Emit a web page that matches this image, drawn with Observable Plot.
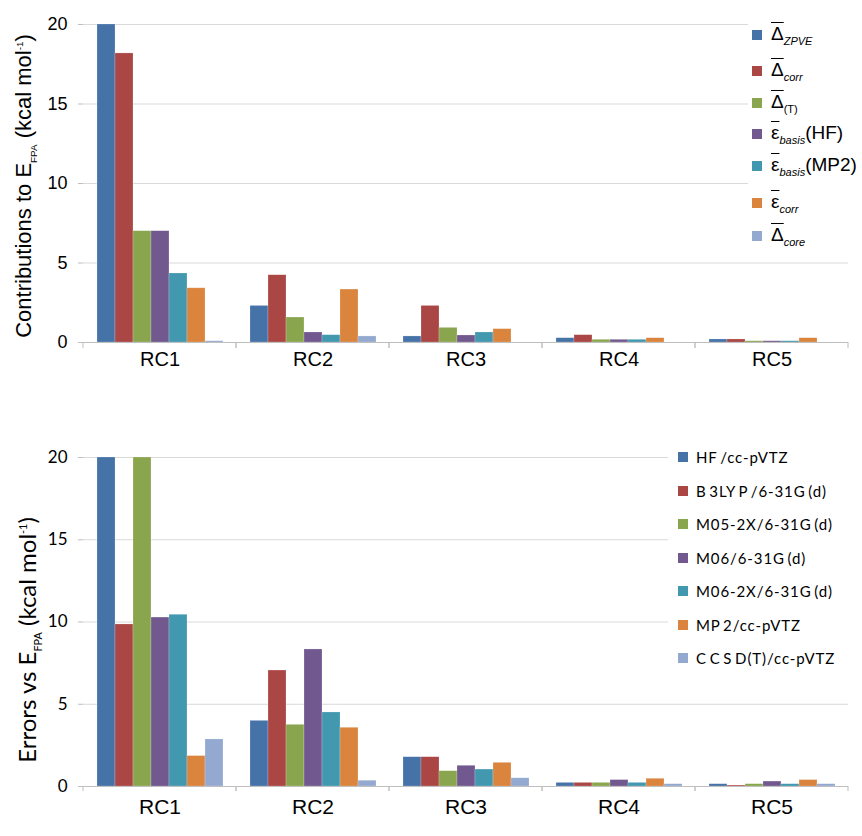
<!DOCTYPE html>
<html>
<head>
<meta charset="utf-8">
<script src="https://cdn.jsdelivr.net/npm/d3@7"></script>
<script src="https://cdn.jsdelivr.net/npm/@observablehq/plot@0.6"></script>
<style>
  body { margin: 0; background: #fff; }
  #wrap { position: relative; width: 862px; height: 836px; background: #fff; overflow: hidden; }
  .abs { position: absolute; }
  .ylab { position: absolute; white-space: nowrap; transform: translate(-50%, -50%) rotate(-90deg); color: #000; }
  .ylab sub, .ylab sup { font-size: 45%; }
  .leg { position: absolute; background: #fff; }
  .row { position: absolute; display: flex; align-items: center; white-space: nowrap; }
  .sw { width: 10px; height: 10px; margin-right: 9px; flex: none; }
  .ol { text-decoration: overline; }
  .leg1 { font-family: "Liberation Sans", Arial, sans-serif; font-size: 19px; color: #000; }
  .leg1 sub { font-size: 11px; font-style: italic; vertical-align: -5px; }
  .leg1 sub.n { font-style: normal; }
  .leg2 { font-family: Lato, sans-serif; font-size: 15px; letter-spacing: 0.9px; word-spacing: -2px; color: #000; }
</style>
</head>
<body>
<div id="wrap">
  <div id="top" class="abs" style="left:0;top:0"></div>
  <div id="bottom" class="abs" style="left:0;top:430px"></div>
  <div class="ylab" style="left:25px;top:186px;font-family:'Liberation Sans',Arial,sans-serif;font-size:22px">Contributions to E<sub>FPA</sub> (kcal mol<sup>-1</sup>)</div>
  <div class="ylab" style="left:28px;top:640px;font-family:Lato,sans-serif;font-size:24px">Errors vs E<sub>FPA</sub> (kcal mol<sup>-1</sup>)</div>
  <div id="leg1" class="leg leg1" style="left:748px;top:16px;width:114px;height:236px"></div>
  <div id="leg2" class="leg leg2" style="left:668px;top:444px;width:194px;height:228px"></div>
</div>
<script>
const categories = ["RC1", "RC2", "RC3", "RC4", "RC5"];
const yTicks = [0, 5, 10, 15, 20];
const colors = ["#4572A7", "#AA4643", "#89A54E", "#71588F", "#4198AF", "#DB843D", "#93A9CF"];

// Top chart: contributions (series keys + HTML legend labels)
const topSeries = ["dZPVE", "dcorr", "dT", "eHF", "eMP2", "ecorr", "dcore"];
const topLabels = [
  '<span class="ol">&Delta;</span><sub>ZPVE</sub>',
  '<span class="ol">&Delta;</span><sub>corr</sub>',
  '<span class="ol">&Delta;</span><sub class="n">(T)</sub>',
  '<span class="ol">&epsilon;</span><sub>basis</sub>(HF)',
  '<span class="ol">&epsilon;</span><sub>basis</sub>(MP2)',
  '<span class="ol">&epsilon;</span><sub>corr</sub>',
  '<span class="ol">&Delta;</span><sub>core</sub>'
];
const dZPVE = [20.0, 2.30, 0.38, 0.27, 0.19];
const dcorr = [18.18, 4.23, 2.30, 0.46, 0.19];
const dT    = [7.00, 1.57, 0.92, 0.17, 0.08];
const eHF   = [7.00, 0.63, 0.44, 0.17, 0.08];
const eMP2  = [4.34, 0.46, 0.63, 0.17, 0.08];
const ecorr = [3.41, 3.33, 0.84, 0.27, 0.27];
const dcore = [0.08, 0.38, 0.00, 0.00, 0.00];
const topValues = [dZPVE, dcorr, dT, eHF, eMP2, ecorr, dcore];

// Bottom chart: errors
const botSeries = ["HF /cc-pVTZ", "B3LYP/6-31G(d)", "M05-2X/6-31G(d)", "M06/6-31G(d)", "M06-2X/6-31G(d)", "MP2/cc-pVTZ", "CCSD(T)/cc-pVTZ"];
const botLabels = ["HF /cc-pVTZ", "B 3LY P /6-31G (d)", "M05-2X/6-31G (d)", "M06/6-31G (d)", "M06-2X/6-31G (d)", "MP 2/cc-pVTZ", "C C S D(T)/cc-pVTZ"];
const errHF     = [20.0, 3.99, 1.78, 0.22, 0.14];
const errB3LYP  = [9.85, 7.05, 1.78, 0.22, 0.06];
const errM052X  = [20.0, 3.75, 0.93, 0.22, 0.14];
const errM06    = [10.27, 8.33, 1.26, 0.39, 0.30];
const errM062X  = [10.44, 4.50, 1.03, 0.22, 0.14];
const errMP2    = [1.85, 3.57, 1.44, 0.47, 0.39];
const errCCSDT  = [2.86, 0.35, 0.50, 0.14, 0.14];
const botValues = [errHF, errB3LYP, errM052X, errM06, errM062X, errMP2, errCCSDT];

function toRows(series, values) {
  const rows = [];
  series.forEach((s, i) => categories.forEach((c, j) => rows.push({cat: c, series: s, value: values[i][j]})));
  return rows;
}

// category boundary ticks (drawn from the facet's band-scale range)
function boundaryTicks(len) {
  return (index, scales, values, dims, context) => {
    const g = d3.create("svg:g");
    const [x0, x1] = scales.x.range();
    const y0 = scales.y(0);
    for (const xv of [x0, x1]) {
      g.append("line").attr("x1", xv).attr("x2", xv).attr("y1", y0).attr("y2", y0 + len)
        .attr("stroke", "#bfbfbf").attr("stroke-width", 1);
    }
    return g.node();
  };
}

function chart({series, values, height, marginTop, marginBottom, tickFont, tickFontSize, catFontSize, catPad, tickLen}) {
  const data = toRows(series, values);
  return Plot.plot({
    width: 862,
    height,
    marginLeft: 82,
    marginRight: 14,
    marginTop,
    marginBottom,
    style: {background: "transparent", overflow: "visible"},
    fx: {domain: categories, padding: 0, label: null},
    x: {domain: series, paddingInner: 0, paddingOuter: 0.75, axis: null},
    y: {domain: [0, 20], label: null},
    color: {domain: series, range: colors},
    marks: [
      Plot.gridY(yTicks, {stroke: "#d9d9d9", strokeOpacity: 1}),
      Plot.barY(data, {fx: "cat", x: "series", y: "value", fill: "series", clip: true, stroke: "#fff", strokeOpacity: 0.35, strokeWidth: 0.6}),
      Plot.ruleY([0], {stroke: "#bfbfbf"}),
      boundaryTicks(tickLen),
      Plot.axisY({ticks: yTicks, tickSize: 5, tickPadding: 11, stroke: "#bfbfbf", fontSize: tickFontSize, fontFamily: tickFont, fill: "#000", label: null, facetAnchor: "left"}),
      Plot.axisFx({anchor: "bottom", tickSize: 0, tickPadding: catPad, fontSize: catFontSize, fontFamily: "Liberation Sans, Arial, sans-serif", fill: "#000", label: null})
    ]
  });
}

document.getElementById("top").append(chart({
  series: topSeries, values: topValues, height: 380, marginTop: 24, marginBottom: 38,
  tickFont: "Liberation Sans, Arial, sans-serif", tickFontSize: 18, catFontSize: 20, catPad: 9, tickLen: 6
}));
document.getElementById("bottom").append(chart({
  series: botSeries, values: botValues, height: 406, marginTop: 27, marginBottom: 50,
  tickFont: "Lato, sans-serif", tickFontSize: 17, catFontSize: 21, catPad: 13, tickLen: 5
}));

// Legends
const leg1 = document.getElementById("leg1");
const leg1Rows = [19, 55, 87, 118, 150, 187, 220];
topLabels.forEach((lab, i) => {
  const r = document.createElement("div");
  r.className = "row";
  r.style.left = "4px";
  r.style.top = (leg1Rows[i] - 12) + "px";
  r.innerHTML = `<div class="sw" style="background:${colors[i]}"></div><div>${lab}</div>`;
  leg1.append(r);
});
const leg2 = document.getElementById("leg2");
botLabels.forEach((lab, i) => {
  const r = document.createElement("div");
  r.className = "row";
  r.style.left = "10px";
  r.style.top = (14 + i * 33.5 - 10) + "px";
  r.innerHTML = `<div class="sw" style="background:${colors[i]};margin-right:8px"></div><div>${lab}</div>`;
  leg2.append(r);
});
</script>
</body>
</html>
